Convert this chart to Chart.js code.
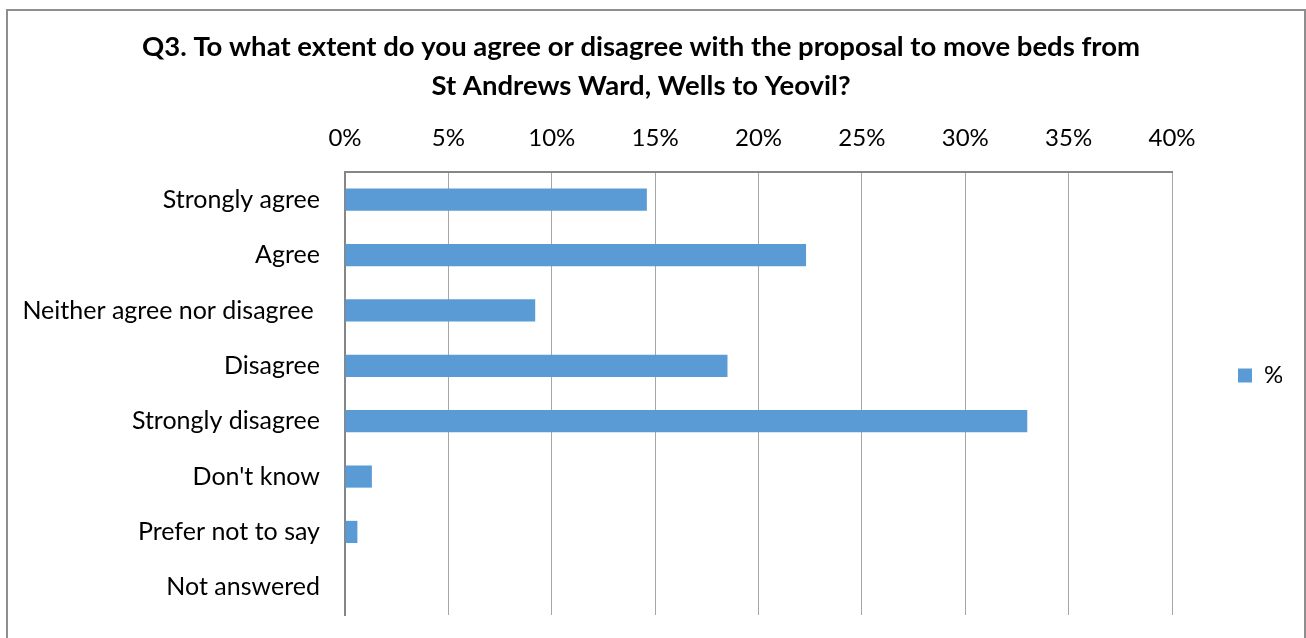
<!DOCTYPE html>
<html>
<head>
<meta charset="utf-8">
<script src="https://cdn.jsdelivr.net/npm/chart.js@4.4.1/dist/chart.umd.min.js"></script>
<style>
  html, body { margin: 0; padding: 0; background: #fff; overflow: hidden; }
  #frame { position: absolute; left: 6px; top: 9px; width: 1296px; height: 680px; border: 2px solid #8e8e8e; }
  #wrap { position: absolute; left: 0; top: 0; width: 1306px; height: 638px; }
</style>
</head>
<body>
<div id="frame"></div>
<div id="wrap"><canvas id="barchart" width="1306" height="638"></canvas></div>
<script>
var answers = ["Strongly agree", "Agree", "Neither agree nor disagree ", "Disagree",
    "Strongly disagree", "Don't know", "Prefer not to say", "Not answered"];
var percents = [14.6, 22.3, 9.2, 18.5, 33.0, 1.3, 0.6, 0];
var seriesName = "%";
var axisMax = 40;
var axisStep = 5;
var titleLines = ["Q3. To what extent do you agree or disagree with the proposal to move beds from",
    "St Andrews Ward, Wells to Yeovil?"];

Chart.defaults.font.family = "Lato";
Chart.defaults.color = "#000";

// move the legend item up a little, like the original
var legendNudge = {
    id: "legendNudge",
    afterLayout: function (chart) {
        chart.legend.top -= 18;
        chart.legend.bottom -= 18;
    }
};

function draw() {
    var ctx = document.getElementById("barchart").getContext("2d");
    new Chart(ctx, {
        type: "bar",
        data: {
            labels: answers,
            datasets: [
                {
                    label: seriesName,
                    data: percents,
                    backgroundColor: "#5b9bd5",
                    barPercentage: 0.4,
                    categoryPercentage: 1
                }
            ]
        },
        options: {
            indexAxis: "y",
            responsive: false,
            animation: false,
            layout: {
                padding: { left: 0, right: 24, top: 0, bottom: 23 }
            },
            plugins: {
                title: {
                    display: true,
                    text: titleLines,
                    color: "#000",
                    font: { size: 27.5, weight: "bold", lineHeight: "39px" },
                    padding: { top: 27.5, bottom: 17.5 }
                },
                legend: {
                    position: "right",
                    fullSize: false,
                    maxWidth: 110,
                    labels: {
                        boxWidth: 14,
                        boxHeight: 14,
                        padding: 66,
                        font: { size: 24 },
                        color: "#000"
                    }
                },
                tooltip: { enabled: false }
            },
            scales: {
                x: {
                    position: "top",
                    min: 0,
                    max: axisMax,
                    afterFit: function (scale) { scale.height = 49; },
                    ticks: {
                        stepSize: axisStep,
                        padding: 19,
                        font: { size: 24 },
                        color: "#000",
                        callback: function (v) { return v + "%"; }
                    },
                    grid: { color: "#a6a6a6", lineWidth: 1, drawTicks: false },
                    border: { display: true, color: "#868686", width: 2 }
                },
                y: {
                    afterFit: function (scale) {
                        scale.width = 345;
                        scale.paddingTop = 0;
                        scale.paddingBottom = 0;
                    },
                    ticks: {
                        padding: 25,
                        font: { size: 25 },
                        color: "#000"
                    },
                    grid: { display: false, drawTicks: false },
                    border: { display: true, color: "#868686", width: 2 }
                }
            }
        },
        plugins: [legendNudge]
    });
}

document.fonts.load("20px Lato").then(draw, draw);
</script>
</body>
</html>
